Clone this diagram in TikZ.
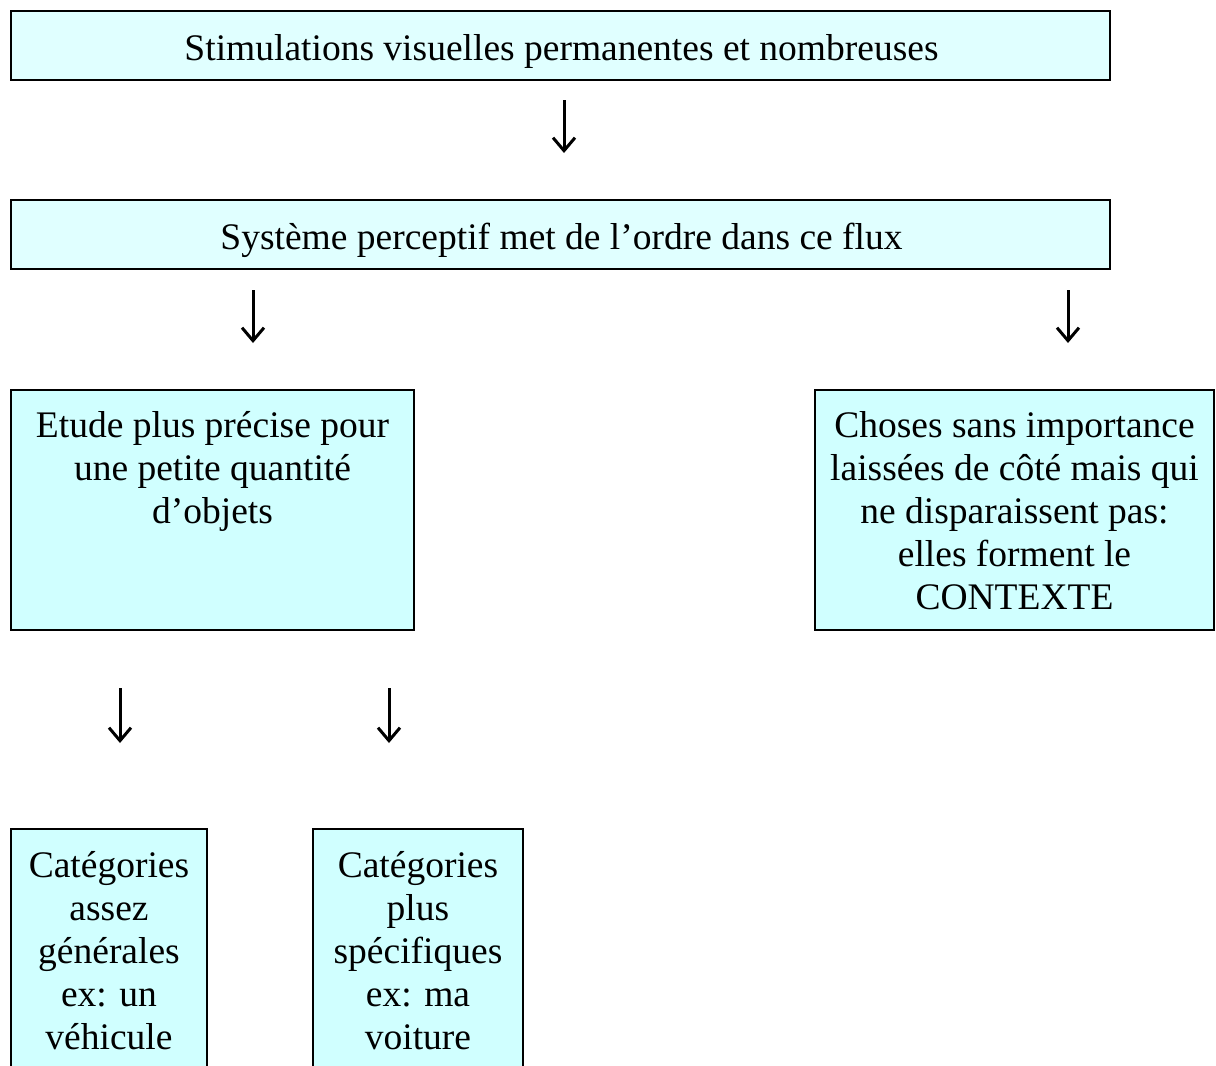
\documentclass[tikz,border=0pt]{standalone}
\usepackage{fontspec}
\setmainfont{Liberation Serif}
\usetikzlibrary{arrows.meta}
\definecolor{fillA}{HTML}{E0FFFF}
\definecolor{fillB}{HTML}{D0FFFF}
\begin{document}
\begin{tikzpicture}[x=1pt,y=-1pt,
  boxA/.style={draw=black,line width=2.8pt,fill=fillA,rectangle,inner sep=0pt},
  boxB/.style={draw=black,line width=2.8pt,fill=fillB,rectangle,inner sep=0pt},
  txt/.style={anchor=base,inner sep=0pt,font=\fontsize{37.5}{43}\selectfont},
  arr/.style={line width=3pt,-{Straight Barb[length=13pt,width=22pt,line width=3pt]}}]
\useasboundingbox (0,0) rectangle (1216,1066);
\clip (0,0) rectangle (1216,1066);
% boxes
\draw[boxA] (11,11) rectangle (1110,80);
\node[txt] (t1) at (561.5,60) {Stimulations visuelles permanentes et nombreuses};
\draw[boxA] (11,200) rectangle (1110,269);
\node[txt] (t2) at (561.5,249) {Système perceptif met de l’ordre dans ce flux};
\draw[boxB] (11,390) rectangle (414,630);
\node[txt] (t3) at (212.5,437) {\parbox[t]{390pt}{\centering Etude plus précise pour\\ une petite quantité\\ d’objets}};
\draw[boxB] (815,390) rectangle (1214,630);
\node[txt] (t4) at (1014.5,437) {\parbox[t]{395pt}{\centering Choses sans importance\\ laissées de côté mais qui\\ ne disparaissent pas:\\ elles forment le\\ CONTEXTE}};
\draw[boxB] (11,829) rectangle (207,1090);
\node[txt] (t5) at (109,877) {\parbox[t]{190pt}{\centering Catégories\\ assez\\ générales\\ ex: un\\ véhicule}};
\draw[boxB] (313,829) rectangle (523,1090);
\node[txt] (t6) at (418,877) {\parbox[t]{205pt}{\centering Catégories\\ plus\\ spécifiques\\ ex: ma\\ voiture}};
% arrows
\coordinate (a1s) at (564,100); \coordinate (a1e) at (564,153);
\coordinate (a2s) at (253,290); \coordinate (a2e) at (253,343);
\coordinate (a3s) at (1068,290); \coordinate (a3e) at (1068,343);
\coordinate (a4s) at (120,688); \coordinate (a4e) at (120,743);
\coordinate (a5s) at (389,688); \coordinate (a5e) at (389,743);
\draw[arr] (a1s) -- (a1e);
\draw[arr] (a2s) -- (a2e);
\draw[arr] (a3s) -- (a3e);
\draw[arr] (a4s) -- (a4e);
\draw[arr] (a5s) -- (a5e);
\end{tikzpicture}
\end{document}
